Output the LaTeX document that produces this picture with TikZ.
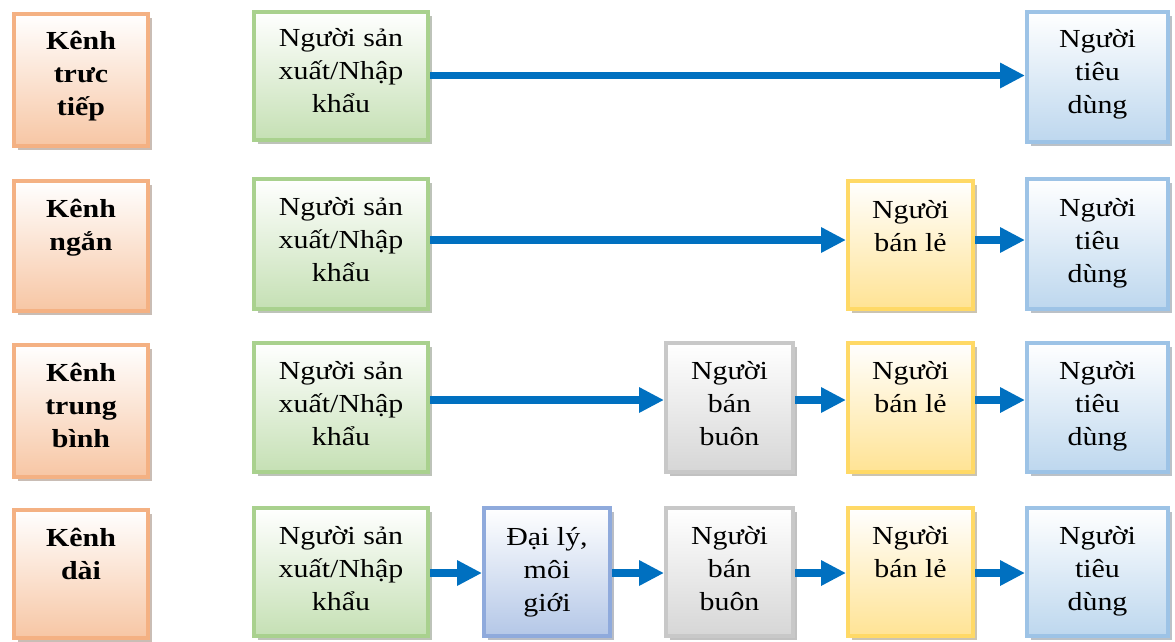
\documentclass[tikz,border=0pt]{standalone}
\usepackage{fontspec}
\setmainfont{Liberation Serif}[FakeStretch=1.15]
\usetikzlibrary{arrows.meta,shadows}
\definecolor{orB}{HTML}{F4B183}\definecolor{orF}{HTML}{F7C6A4}
\definecolor{grB}{HTML}{A9D18E}\definecolor{grF}{HTML}{C5E0B4}
\definecolor{blB}{HTML}{9DC3E6}\definecolor{blF}{HTML}{BDD7EE}
\definecolor{yeB}{HTML}{FFD966}\definecolor{yeF}{HTML}{FFE394}
\definecolor{gyB}{HTML}{C8C8C8}\definecolor{gyF}{HTML}{D6D6D6}
\definecolor{agB}{HTML}{8FAADC}\definecolor{agF}{HTML}{B4C7E7}
\definecolor{arrC}{HTML}{0070C0}
\tikzset{
  boxbase/.style={draw=#1, line width=4pt, inner sep=0pt, top color=white, bottom color=#1,
    drop shadow={shadow xshift=3.5pt, shadow yshift=-3.5pt, fill=#1!55!black, opacity=0.45}},
  orbox/.style={boxbase=orF, draw=orB},
  grbox/.style={boxbase=grF, draw=grB},
  blbox/.style={boxbase=blF, draw=blB},
  yebox/.style={boxbase=yeF, draw=yeB},
  gybox/.style={boxbase=gyF, draw=gyB},
  agbox/.style={boxbase=agF, draw=agB},
  txt/.style={anchor=north, align=center, inner sep=0pt, font=\fontsize{26}{33}\selectfont},
  btxt/.style={txt, font=\fontsize{26}{33}\selectfont\bfseries},
  arr/.style={draw=arrC, line width=7.5pt, -{Triangle[length=25pt,width=24pt]}},
}
% name, box style, text style, cx, cy, w, h, shift, text
\newcommand\bx[9]{%
  \node[#2, minimum width=#6pt, minimum height=#7pt] (#1) at (#4,#5) {};
  \node[#3] (#1t) at ([yshift=-#8pt]#1.north) {\rule{0pt}{26pt}#9};}
\begin{document}
\begin{tikzpicture}[x=1pt,y=-1pt]
\useasboundingbox (0,0) rectangle (1175,641);
% row 1
\bx{k1}{orbox}{btxt}{81}{80}{134}{132}{11}{Kênh\\trưc\\tiếp}
\bx{p1}{grbox}{txt}{341}{76}{174}{128}{10}{Người sản\\xuất/Nhập\\khẩu}
\bx{c1}{blbox}{txt}{1097.5}{77}{141}{130}{11}{Người\\tiêu\\dùng}
% row 2
\bx{k2}{orbox}{btxt}{81}{246}{134}{130}{12}{Kênh\\ngắn}
\bx{p2}{grbox}{txt}{341}{244}{174}{130}{12}{Người sản\\xuất/Nhập\\khẩu}
\bx{r2}{yebox}{txt}{910.5}{245}{125}{128}{13}{Người\\bán lẻ}
\bx{c2}{blbox}{txt}{1097.5}{244}{141}{130}{13}{Người\\tiêu\\dùng}
% row 3
\bx{k3}{orbox}{btxt}{81}{411}{134}{132}{12}{Kênh\\trung\\bình}
\bx{p3}{grbox}{txt}{341}{407.5}{174}{129}{12}{Người sản\\xuất/Nhập\\khẩu}
\bx{w3}{gybox}{txt}{729.5}{407.5}{127}{129}{12}{Người\\bán\\buôn}
\bx{r3}{yebox}{txt}{910.5}{407.5}{125}{129}{12}{Người\\bán lẻ}
\bx{c3}{blbox}{txt}{1097.5}{407.5}{141}{129}{12}{Người\\tiêu\\dùng}
% row 4
\bx{k4}{orbox}{btxt}{81}{574}{134}{128}{12}{Kênh\\dài}
\bx{p4}{grbox}{txt}{341}{572}{174}{128}{12}{Người sản\\xuất/Nhập\\khẩu}
\bx{a4}{agbox}{txt}{547}{572}{126}{128}{13}{Đại lý,\\môi\\giới}
\bx{w4}{gybox}{txt}{729.5}{572}{127}{128}{12}{Người\\bán\\buôn}
\bx{r4}{yebox}{txt}{910.5}{572}{125}{128}{12}{Người\\bán lẻ}
\bx{c4}{blbox}{txt}{1097.5}{572}{141}{128}{12}{Người\\tiêu\\dùng}
% arrows
\draw[arr] ([yshift=0.5pt]p1.east) -- ([yshift=0.5pt]p1.east -| c1.west);
\draw[arr] ([yshift=4pt]p2.east) -- ([yshift=4pt]p2.east -| r2.west);
\draw[arr] ([yshift=4pt]p2.east -| r2.east) -- ([yshift=4pt]p2.east -| c2.west);
\draw[arr] ([yshift=7.5pt]p3.east) -- ([yshift=7.5pt]p3.east -| w3.west);
\draw[arr] ([yshift=7.5pt]w3.east) -- ([yshift=7.5pt]w3.east -| r3.west);
\draw[arr] ([yshift=7.5pt]r3.east) -- ([yshift=7.5pt]r3.east -| c3.west);
\draw[arr] ([yshift=-1pt]p4.east) -- ([yshift=-1pt]p4.east -| a4.west);
\draw[arr] ([yshift=-1pt]a4.east) -- ([yshift=-1pt]a4.east -| w4.west);
\draw[arr] ([yshift=-1pt]w4.east) -- ([yshift=-1pt]w4.east -| r4.west);
\draw[arr] ([yshift=-1pt]r4.east) -- ([yshift=-1pt]r4.east -| c4.west);
\end{tikzpicture}
\end{document}
